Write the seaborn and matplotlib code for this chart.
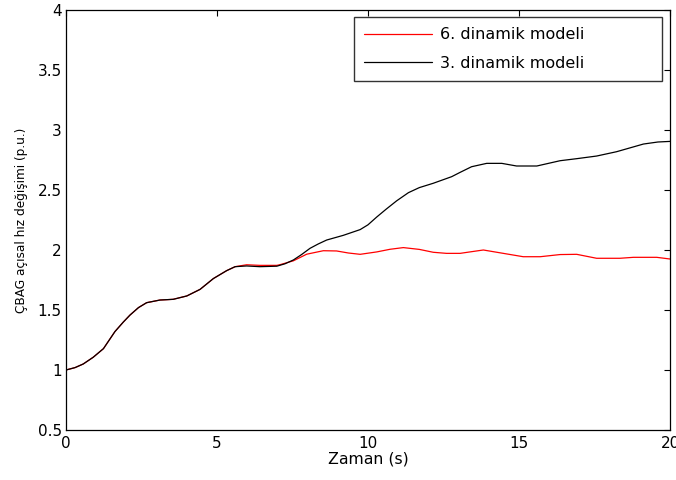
import numpy as np
import pandas as pd
import matplotlib
matplotlib.use("Agg")
import matplotlib.pyplot as plt
import seaborn as sns

# Shared early part (both models practically identical until ~6 s)
t_common = [0.0, 0.3, 0.57, 0.9, 1.24, 1.62, 1.9, 2.12, 2.4, 2.67, 3.11, 3.55, 4.0, 4.44, 4.88, 5.32, 5.6]
v_common = [1.0, 1.02, 1.05, 1.106, 1.178, 1.32, 1.40, 1.458, 1.52, 1.561, 1.583, 1.589, 1.617, 1.672,
            1.762, 1.828, 1.861]

t_red_tail = [5.98, 6.42, 6.98, 7.09, 7.53, 7.97, 8.52, 8.96, 9.35, 9.74, 10.29, 10.73, 11.17, 11.7,
              12.16, 12.6, 13.05, 13.32, 13.82, 14.48, 15.14, 15.7, 16.36, 16.91, 17.57, 18.34, 18.79,
              19.56, 20.0]
v_red_tail = [1.877, 1.872, 1.872, 1.878, 1.91, 1.965, 1.994, 1.992, 1.975, 1.964, 1.984, 2.006, 2.02,
              2.005, 1.981, 1.972, 1.972, 1.982, 2.0, 1.972, 1.944, 1.944, 1.962, 1.964, 1.931, 1.931,
              1.939, 1.939, 1.925]

t_black_tail = [5.98, 6.42, 6.98, 7.25, 7.53, 7.8, 8.08, 8.35, 8.63, 9.18, 9.74, 10.0, 10.29, 10.6,
                10.95, 11.34, 11.7, 12.16, 12.77, 13.05, 13.43, 13.93, 14.43, 14.92, 15.59, 16.36,
                16.91, 17.57, 18.23, 19.12, 19.6, 20.0]
v_black_tail = [1.867, 1.861, 1.865, 1.885, 1.917, 1.962, 2.014, 2.05, 2.083, 2.122, 2.17, 2.21, 2.275,
                2.34, 2.41, 2.478, 2.52, 2.556, 2.611, 2.647, 2.694, 2.722, 2.722, 2.70, 2.70, 2.744,
                2.761, 2.783, 2.819, 2.883, 2.9, 2.905]

labels = ["6. dinamik modeli", "3. dinamik modeli"]
x_ticks = [0, 5, 10, 15, 20]
y_ticks = [0.5, 1, 1.5, 2, 2.5, 3, 3.5, 4]
x_tick_labels = ["0", "5", "10", "15", "20"]
y_tick_labels = ["0.5", "1", "1.5", "2", "2.5", "3", "3.5", "4"]

df = pd.concat([
    pd.DataFrame({"t": t_common + t_red_tail, "v": v_common + v_red_tail, "model": labels[0]}),
    pd.DataFrame({"t": t_common + t_black_tail, "v": v_common + v_black_tail, "model": labels[1]}),
], ignore_index=True)

sns.set_theme(style="white")
plt.rcParams['font.family'] = ['DejaVu Sans']
plt.rcParams['text.color'] = 'black'

fig = plt.figure(figsize=(6.76, 4.8), dpi=100)
ax = fig.add_axes([66/676, 50/480, 604/676, 420/480])

sns.lineplot(data=df, x="t", y="v", hue="model", hue_order=labels,
             palette={labels[0]: "#ff0000", labels[1]: "#000000"},
             estimator=None, sort=False, linewidth=0.9, ax=ax)

ax.set_xlim(0, 20)
ax.set_ylim(0.5, 4)
ax.set_xticks(x_ticks)
ax.set_yticks(y_ticks)
ax.set_xticklabels(x_tick_labels)
ax.set_yticklabels(y_tick_labels)
ax.tick_params(direction="in", length=4, width=0.8, top=True, right=True,
               labelsize=11, colors="black")
ax.tick_params(axis="x", pad=4)
ax.tick_params(axis="y", pad=3)
for s in ax.spines.values():
    s.set_visible(True)
    s.set_color("black")
    s.set_linewidth(0.9)

ax.set_xlabel("Zaman (s)", fontsize=11.3, labelpad=1, color="black")
ax.set_ylabel("ÇBAG açısal hız değişimi (p.u.)", fontsize=8.7, labelpad=7, color="black")

leg = ax.legend(loc="upper left", bbox_to_anchor=(0.4768, 0.80, 0.51, 0.1833), mode="expand",
                fontsize=11.5, frameon=True, fancybox=False, edgecolor="black",
                handlelength=4.25, handletextpad=0.5, borderpad=0.65,
                labelspacing=0.83, borderaxespad=0)
leg.get_frame().set_linewidth(1.0)
for txt in leg.get_texts():
    txt.set_color("black")
leg.set_title(None)

fig.savefig("out.png", dpi=100)
